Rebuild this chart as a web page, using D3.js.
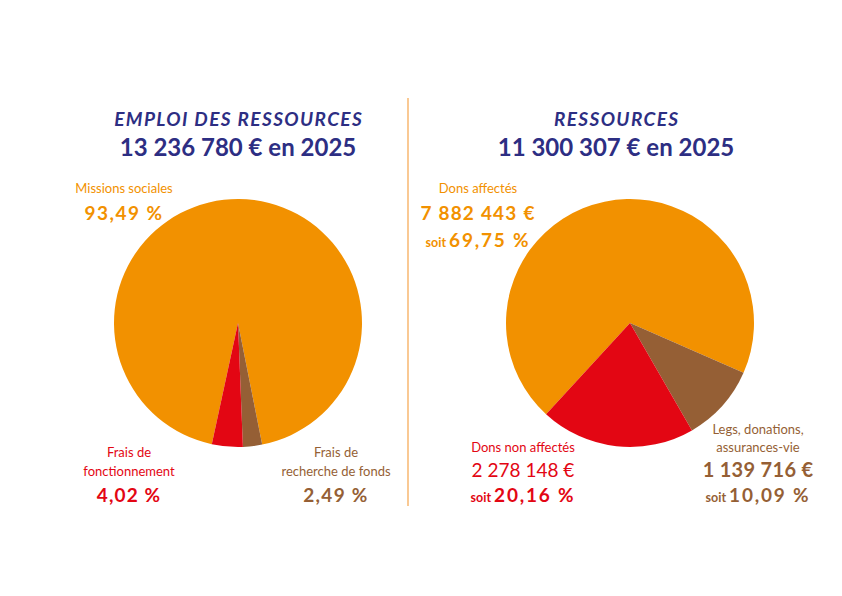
<!DOCTYPE html>
<html lang="fr">
<head>
<meta charset="utf-8">
<script src="https://cdn.jsdelivr.net/npm/d3@7"></script>
<style>
  html, body { margin: 0; padding: 0; background: #fff; }
  svg { display: block; font-family: Lato, "Open Sans", sans-serif; }
</style>
</head>
<body>
<svg id="chart" width="842" height="596"></svg>
<script>
// emplois (left pie)
const empTitle = ['EMPLOI DES RESSOURCES', '13 236 780 € en 2025']
const empCategories = ['Missions sociales', 'Frais de recherche de fonds', 'Frais de fonctionnement']
const empShares = [93.49, 2.49, 4.02]

// ressources (right pie)
const resTitle = ['RESSOURCES', '11 300 307 € en 2025']
const resCategories = ['Dons affectés', 'Legs, donations, assurances-vie', 'Dons non affectés']
const resAmounts = [7882443, 1139716, 2278148]
const resShares = [69.75, 10.09, 20.16]

const colors = ['#f29100', '#955f35', '#e30613']
const navy = '#2d2e83'

const fr = d3.formatLocale({ decimal: ',', thousands: ' ', grouping: [3], currency: ['', ' €'] })
const pct = (v) => fr.format(',.2f')(v) + ' %'
const eur = (v) => fr.format(',d')(v) + ' €'

const svg = d3.select('#chart')
const radius = 124
const arc = d3.arc().innerRadius(0).outerRadius(radius)
const deg = Math.PI / 180

function drawPie(cx, cy, values, startDeg) {
  const pie = d3.pie().sort(null).value((d) => d)
    .startAngle(startDeg * deg).endAngle(startDeg * deg + 2 * Math.PI)
  svg.append('g')
    .attr('transform', `translate(${cx},${cy})`)
    .selectAll('path')
    .data(pie(values))
    .join('path')
    .attr('d', arc)
    .attr('fill', (d, i) => colors[i])
}

function title(cx, lines) {
  svg.append('text')
    .attr('x', cx + 0.7).attr('y', 126)
    .attr('text-anchor', 'middle')
    .attr('fill', navy)
    .attr('font-size', 19).attr('font-weight', 700).attr('font-style', 'italic')
    .attr('letter-spacing', 1.4)
    .text(lines[0])
  svg.append('text')
    .attr('x', cx).attr('y', 156)
    .attr('text-anchor', 'middle')
    .attr('fill', navy)
    .attr('font-size', 24).attr('font-weight', 700)
    .text(lines[1])
}

// one label block, each line { text, y, size, weight, ls } or a 'soit' line
function label(x, color, lines) {
  const g = svg.append('g').attr('fill', color).attr('text-anchor', 'middle')
  lines.forEach((l) => {
    const t = g.append('text').attr('x', x).attr('y', l.y)
    if (l.soit) {
      t.append('tspan').attr('font-size', 12.5).attr('font-weight', 700).text('soit ')
      t.append('tspan').attr('font-size', 19).attr('font-weight', 700)
        .attr('letter-spacing', 1.8).text(l.text)
    } else {
      t.attr('font-size', l.size).attr('font-weight', l.weight || 400)
        .attr('letter-spacing', l.ls || 0).text(l.text)
    }
  })
}

// divider
svg.append('line')
  .attr('x1', 408).attr('x2', 408).attr('y1', 98).attr('y2', 506)
  .attr('stroke', '#f6a54c').attr('stroke-width', 1.2)

// left
title(238, empTitle)
drawPie(238, 323, empShares, -167.8)
label(124, colors[0], [
  { text: empCategories[0], y: 193, size: 13 },
  { text: pct(empShares[0]), y: 220, size: 19, weight: 700, ls: 1.5 }
])
label(129, colors[2], [
  { text: 'Frais de', y: 457, size: 13 },
  { text: 'fonctionnement', y: 476, size: 13 },
  { text: pct(empShares[2]), y: 502, size: 19, weight: 700, ls: 1.1 }
])
label(336, colors[1], [
  { text: 'Frais de', y: 457, size: 13 },
  { text: 'recherche de fonds', y: 476, size: 13 },
  { text: pct(empShares[1]), y: 502, size: 19, weight: 700, ls: 1.3 }
])

// right
title(616, resTitle)
drawPie(630, 323, resShares, -137.4)
label(478, colors[0], [
  { text: resCategories[0], y: 193, size: 13 },
  { text: eur(resAmounts[0]), y: 220, size: 19, weight: 700, ls: 1.2 },
  { text: pct(resShares[0]), y: 247, soit: true }
])
label(523, colors[2], [
  { text: resCategories[2], y: 452, size: 13 },
  { text: eur(resAmounts[2]), y: 477, size: 19 },
  { text: pct(resShares[2]), y: 502, soit: true }
])
label(758, colors[1], [
  { text: 'Legs, donations,', y: 434, size: 13 },
  { text: 'assurances-vie', y: 452, size: 13 },
  { text: eur(resAmounts[1]), y: 477, size: 20, weight: 700, ls: 0.3 },
  { text: pct(resShares[1]), y: 502, soit: true }
])
</script>
</body>
</html>
